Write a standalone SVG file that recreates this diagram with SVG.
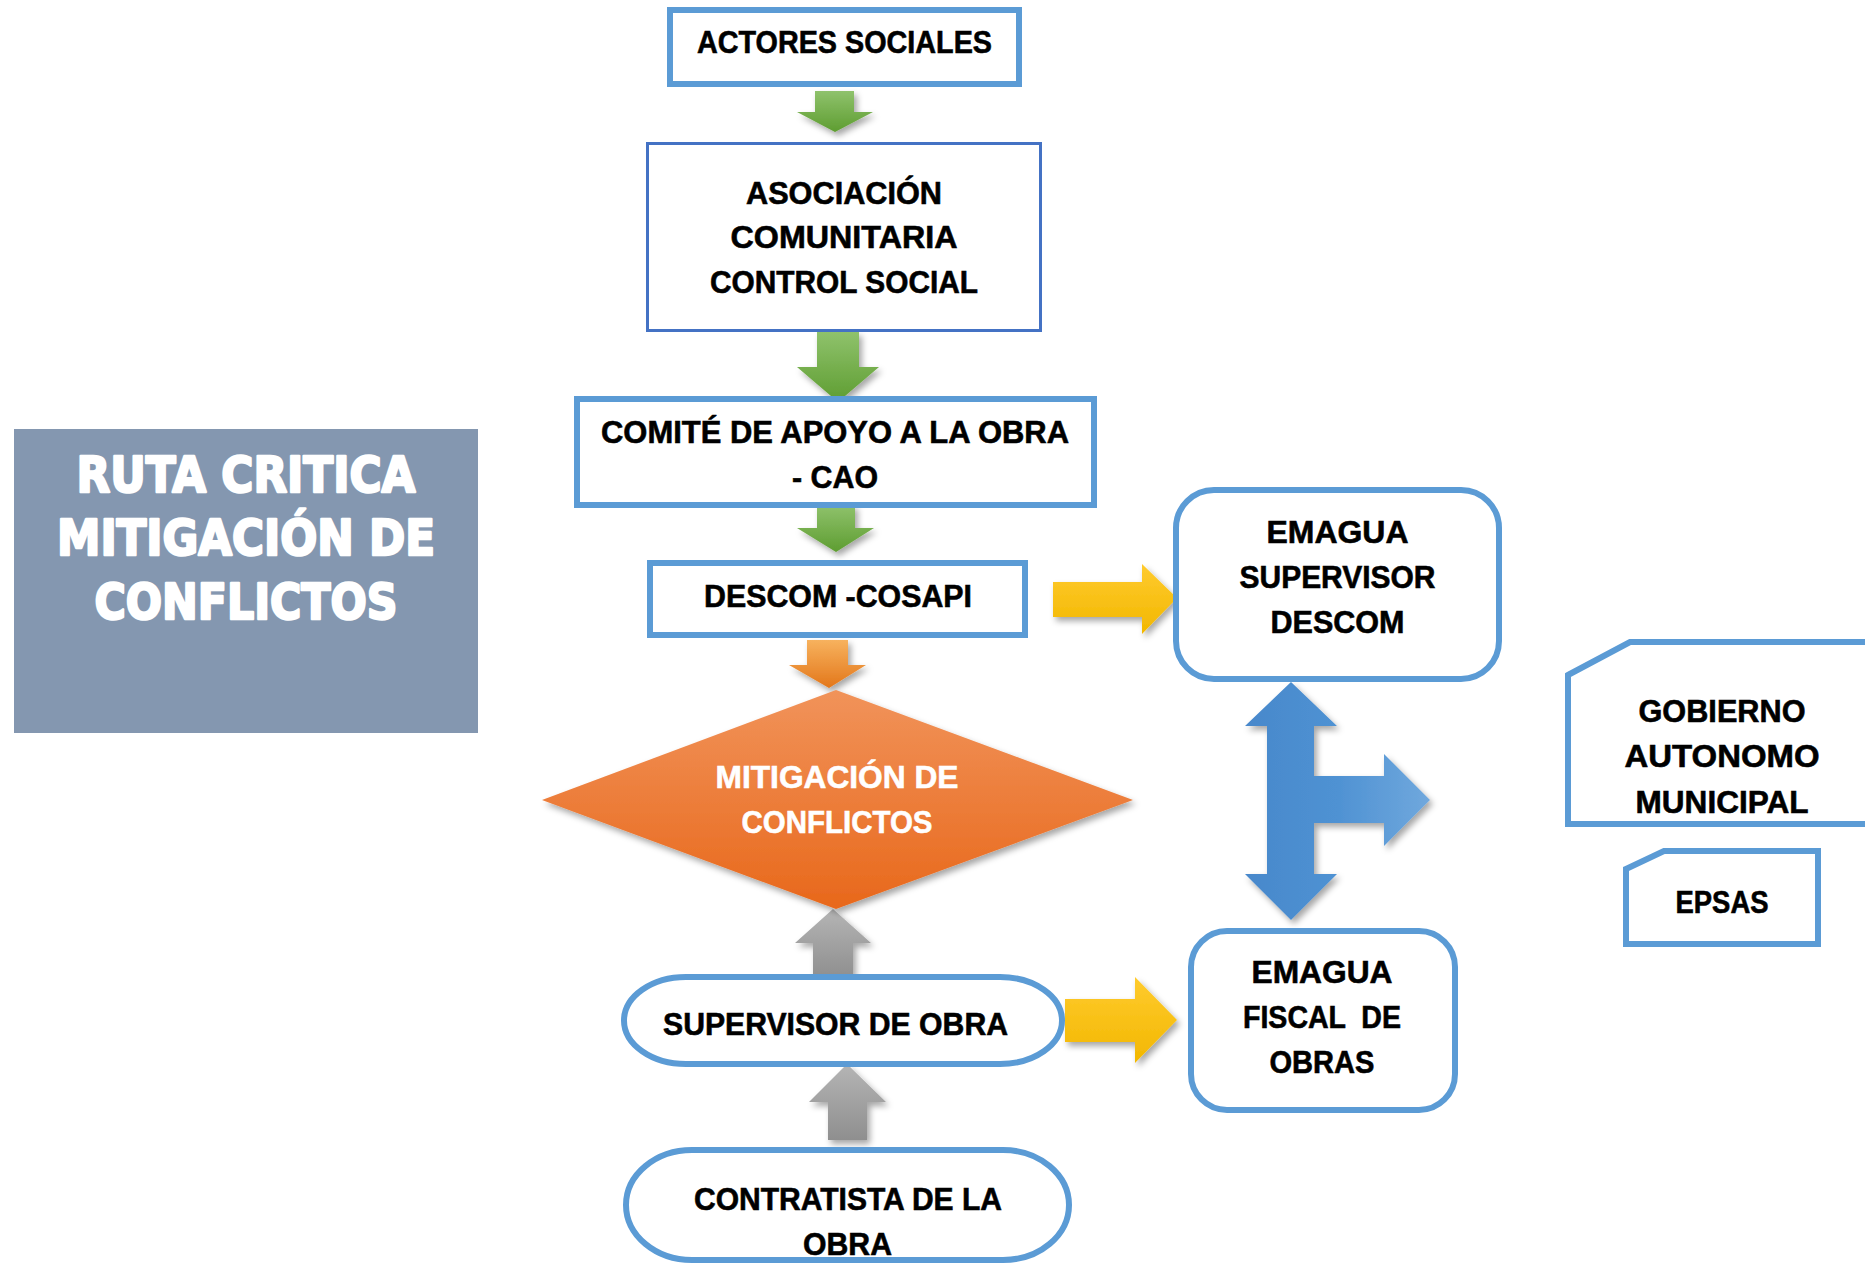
<svg xmlns="http://www.w3.org/2000/svg" width="1865" height="1264" viewBox="0 0 1865 1264">
<defs>
<linearGradient id="gGreen" x1="0" y1="0" x2="0" y2="1"><stop offset="0" stop-color="#8fc26c"/><stop offset="1" stop-color="#5e9d31"/></linearGradient>
<linearGradient id="gOrange" x1="0" y1="0" x2="0" y2="1"><stop offset="0" stop-color="#f7b25e"/><stop offset="1" stop-color="#e3771a"/></linearGradient>
<linearGradient id="gDiamond" x1="0" y1="0" x2="0" y2="1"><stop offset="0" stop-color="#f1935a"/><stop offset="1" stop-color="#e8681b"/></linearGradient>
<linearGradient id="gGray" x1="0" y1="0" x2="0" y2="1"><stop offset="0" stop-color="#b5b5b5"/><stop offset="1" stop-color="#8f8f8f"/></linearGradient>
<linearGradient id="gYellow" x1="0" y1="0" x2="0" y2="1"><stop offset="0" stop-color="#ffcb2e"/><stop offset="1" stop-color="#f2b700"/></linearGradient>
<linearGradient id="gBlue" x1="0" y1="0" x2="1" y2="0"><stop offset="0" stop-color="#4888cb"/><stop offset="0.5" stop-color="#4f92d3"/><stop offset="1" stop-color="#70a8dd"/></linearGradient>
<filter id="shadow" x="-20%" y="-20%" width="150%" height="150%"><feDropShadow dx="3" dy="4" stdDeviation="3" flood-color="#000" flood-opacity="0.35"/></filter>
</defs>
<style>
.box{fill:#fff;stroke:#5b9bd5;stroke-width:6}
.t{font-family:"Liberation Sans",Arial,sans-serif;font-weight:bold;font-size:32px;fill:#000;stroke:#000;stroke-width:0.6;text-anchor:middle}
.w{fill:#fff;stroke:#fff}
.title{font-family:"DejaVu Sans","Liberation Sans",sans-serif;font-weight:bold;font-size:50px;fill:#fff;stroke:#fff;stroke-width:2.5;stroke-linejoin:round;text-anchor:middle}
</style>
<rect width="1865" height="1264" fill="#fff"/>

<g id="title">
<rect x="14" y="429" width="464" height="304" fill="#8497b0"/>
<text class="title" x="246" y="492" textLength="339" lengthAdjust="spacingAndGlyphs">RUTA CRITICA</text>
<text class="title" x="246" y="555" textLength="378" lengthAdjust="spacingAndGlyphs">MITIGACIÓN DE</text>
<text class="title" x="246" y="619" textLength="303" lengthAdjust="spacingAndGlyphs">CONFLICTOS</text>
</g>

<g id="connectors">
<polygon filter="url(#shadow)" fill="url(#gGreen)" points="815,91 854,91 854,112 873,112 835,132 797,112 815,112"/>
<polygon filter="url(#shadow)" fill="url(#gGreen)" points="817,332 859,332 859,367 879,367 838,402 797,367 817,367"/>
<polygon filter="url(#shadow)" fill="url(#gGreen)" points="817,505 855,505 855,528 874,528 836,552 797,528 817,528"/>
<polygon filter="url(#shadow)" fill="url(#gOrange)" points="807,640 848,640 848,665 866,665 829,688 789,665 807,665"/>
<polygon filter="url(#shadow)" fill="url(#gGray)" points="833,909 871,943 853,943 853,977 813,977 813,943 795,943"/>
<polygon filter="url(#shadow)" fill="url(#gGray)" points="847,1064 886,1102 867,1102 867,1140 828,1140 828,1102 809,1102"/>
<polygon filter="url(#shadow)" fill="url(#gYellow)" points="1053,582 1142,582 1142,564 1177,598 1142,634 1142,617 1053,617"/>
<polygon filter="url(#shadow)" fill="url(#gYellow)" points="1065,999 1135,999 1135,977 1177,1020 1135,1063 1135,1042 1065,1042"/>
<polygon filter="url(#shadow)" fill="url(#gBlue)" points="1291,682 1337,726 1314,726 1314,776 1384,776 1384,754 1430,800 1384,846 1384,823 1314,823 1314,874 1337,874 1291,920 1245,874 1267,874 1267,726 1245,726"/>
</g>

<g id="actores">
<rect class="box" x="670" y="10" width="349" height="74"/>
<text class="t" x="844.5" y="53" textLength="295" lengthAdjust="spacingAndGlyphs" font-size="33">ACTORES SOCIALES</text>
</g>

<g id="asociacion">
<rect x="647.5" y="143.5" width="393" height="187" fill="#fff" stroke="#4472c4" stroke-width="3"/>
<text class="t" x="844" y="204" textLength="196" lengthAdjust="spacingAndGlyphs">ASOCIACIÓN</text>
<text class="t" x="844" y="248" textLength="227" lengthAdjust="spacingAndGlyphs">COMUNITARIA</text>
<text class="t" x="844" y="293" textLength="268" lengthAdjust="spacingAndGlyphs">CONTROL SOCIAL</text>
</g>

<g id="cao">
<rect class="box" x="577" y="399" width="517" height="106"/>
<text class="t" x="835" y="443" textLength="468" lengthAdjust="spacingAndGlyphs">COMITÉ DE APOYO A LA OBRA</text>
<text class="t" x="835" y="488" textLength="86" lengthAdjust="spacingAndGlyphs">- CAO</text>
</g>

<g id="descom">
<rect class="box" x="650" y="563" width="375" height="72"/>
<text class="t" x="838" y="607" textLength="268" lengthAdjust="spacingAndGlyphs">DESCOM -COSAPI</text>
</g>

<g id="mitigacion">
<polygon filter="url(#shadow)" fill="url(#gDiamond)" points="836,690 1133,800 836,909 542,800"/>
<text class="t w" x="837" y="788" textLength="243" lengthAdjust="spacingAndGlyphs">MITIGACIÓN DE</text>
<text class="t w" x="837" y="833" textLength="191" lengthAdjust="spacingAndGlyphs">CONFLICTOS</text>
</g>

<g id="supervisor-obra">
<rect class="box" x="624" y="977" width="438" height="87" rx="62" ry="43.5"/>
<text class="t" x="835.5" y="1035" textLength="345" lengthAdjust="spacingAndGlyphs">SUPERVISOR DE OBRA</text>
</g>

<g id="contratista">
<rect class="box" x="626" y="1150" width="443" height="110" rx="66" ry="55"/>
<text class="t" x="848" y="1210" textLength="308" lengthAdjust="spacingAndGlyphs">CONTRATISTA DE LA</text>
<text class="t" x="847.5" y="1255" textLength="89" lengthAdjust="spacingAndGlyphs">OBRA</text>
</g>

<g id="emagua-supervisor">
<rect class="box" x="1176" y="490" width="323" height="189" rx="38" ry="38"/>
<text class="t" x="1337.5" y="543" textLength="142" lengthAdjust="spacingAndGlyphs">EMAGUA</text>
<text class="t" x="1337.5" y="588" textLength="196" lengthAdjust="spacingAndGlyphs">SUPERVISOR</text>
<text class="t" x="1337.5" y="633" textLength="134" lengthAdjust="spacingAndGlyphs">DESCOM</text>
</g>

<g id="emagua-fiscal">
<rect class="box" x="1191" y="931" width="264" height="179" rx="36" ry="36"/>
<text class="t" x="1322" y="983" textLength="141" lengthAdjust="spacingAndGlyphs">EMAGUA</text>
<text class="t" x="1322" y="1028" textLength="158" lengthAdjust="spacingAndGlyphs" xml:space="preserve">FISCAL  DE</text>
<text class="t" x="1322" y="1073" textLength="105" lengthAdjust="spacingAndGlyphs">OBRAS</text>
</g>

<g id="gobierno">
<polygon class="box" points="1568,675 1630,642 1870,642 1870,824 1568,824"/>
<text class="t" x="1722" y="722" textLength="167" lengthAdjust="spacingAndGlyphs">GOBIERNO</text>
<text class="t" x="1722" y="767" textLength="195" lengthAdjust="spacingAndGlyphs">AUTONOMO</text>
<text class="t" x="1722" y="813" textLength="173" lengthAdjust="spacingAndGlyphs">MUNICIPAL</text>
</g>

<g id="epsas">
<polygon class="box" points="1626,869 1664,851 1818,851 1818,944 1626,944"/>
<text class="t" x="1722" y="913" textLength="93" lengthAdjust="spacingAndGlyphs">EPSAS</text>
</g>
</svg>
